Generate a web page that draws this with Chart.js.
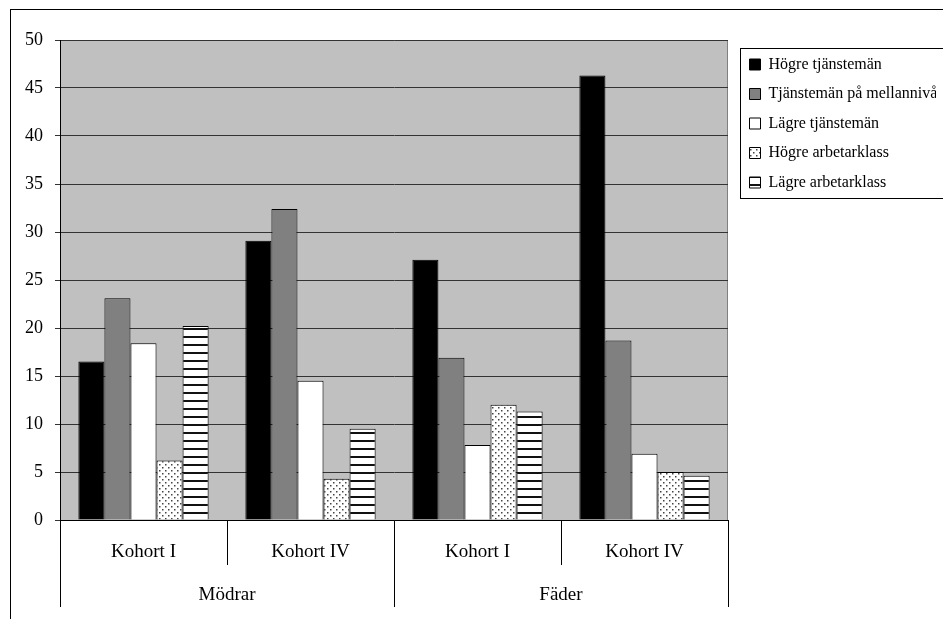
<!DOCTYPE html>
<html lang="sv">
<head>
  <meta charset="UTF-8" />
  <title>Mödrar och fäder - klasstillhörighet per kohort</title>
  <script src="https://cdn.jsdelivr.net/npm/chart.js"></script>
  <style>
    html, body {
      margin: 0;
      padding: 0;
      background: #ffffff;
      overflow: hidden;
    }
    #frame {
      position: absolute;
      left: 10px;
      top: 9px;
      width: 1000px;
      height: 700px;
      border: 1px solid #000000;
    }
    #chartContainer {
      position: absolute;
      left: 0;
      top: 0;
      width: 932px;
      height: 609px;
    }
  </style>
</head>
<body>

  <div id="frame">
    <div id="chartContainer">
      <canvas id="classChart"></canvas>
    </div>
  </div>

  <script>
    // data
    const cohorts = ['Kohort I', 'Kohort IV', 'Kohort I', 'Kohort IV'];
    const groups = ['Mödrar', 'Fäder'];
    const seriesNames = ['Högre tjänstemän', 'Tjänstemän på mellannivå', 'Lägre tjänstemän', 'Högre arbetarklass', 'Lägre arbetarklass'];
    const hogreTjm = [16.5, 29.1, 27.1, 46.3];
    const mellanTjm = [23.1, 32.4, 16.9, 18.7];
    const lagreTjm = [18.4, 14.5, 7.8, 6.9];
    const hogreArb = [6.2, 4.3, 12.0, 5.0];
    const lagreArb = [20.2, 9.5, 11.3, 4.6];
    const yMin = 0;
    const yMax = 50;
    const yStep = 5;

    const serif = "'Liberation Serif', 'Times New Roman', serif";

    // fill patterns
    function dotPattern() {
      const c = document.createElement('canvas');
      c.width = 6; c.height = 6;
      const g = c.getContext('2d');
      g.fillStyle = '#ffffff';
      g.fillRect(0, 0, 6, 6);
      g.fillStyle = '#444444';
      g.fillRect(1, 1, 1.5, 1.5);
      g.fillRect(4, 4, 1.5, 1.5);
      return g.createPattern(c, 'repeat');
    }
    function stripePattern() {
      const c = document.createElement('canvas');
      c.width = 8; c.height = 8;
      const g = c.getContext('2d');
      g.fillStyle = '#ffffff';
      g.fillRect(0, 0, 8, 8);
      g.fillStyle = '#111111';
      g.fillRect(0, 6, 8, 2);
      return g.createPattern(c, 'repeat');
    }

    const seriesValues = [hogreTjm, mellanTjm, lagreTjm, hogreArb, lagreArb];
    const seriesFills = ['#000000', '#808080', '#ffffff', dotPattern(), stripePattern()];

    // gray plot background + legend frame + a little nudge for the legend
    const chartDecor = {
      id: 'chartDecor',
      beforeDraw(chart) {
        const a = chart.chartArea;
        const c = chart.ctx;
        c.save();
        c.fillStyle = '#c0c0c0';
        c.fillRect(a.left, a.top, a.right - a.left, a.bottom - a.top);
        c.strokeStyle = '#808080';
        c.lineWidth = 1;
        c.strokeRect(a.left + 0.5, a.top + 0.5, a.right - a.left - 1, a.bottom - a.top);
        c.restore();
      },
      afterLayout(chart) {
        const lg = chart.legend;
        lg.left += 8; lg.right += 8;
        lg.top += 3; lg.bottom += 3;
      },
      afterDraw(chart) {
        const lg = chart.legend;
        const hb = lg.legendHitBoxes;
        if (!hb || !hb.length) return;
        const c = chart.ctx;
        const x = Math.round(hb[0].left) - 9.5;
        const y = Math.round(hb[0].top) - 8.5;
        const b = Math.round(hb[hb.length - 1].top + hb[hb.length - 1].height) + 7.5;
        c.save();
        c.strokeStyle = '#000000';
        c.lineWidth = 1;
        c.strokeRect(x, y, chart.width + 20 - x, b - y);
        c.restore();
      }
    };

    const ctx = document.getElementById('classChart').getContext('2d');
    const classChart = new Chart(ctx, {
      type: 'bar',
      data: {
        labels: cohorts,
        datasets: seriesNames.map((name, i) => ({
          label: name,
          data: seriesValues[i],
          backgroundColor: seriesFills[i],
          borderColor: '#000000',
          borderWidth: 1,
          categoryPercentage: 0.78,
          barPercentage: 1.0,
          xAxisID: 'x'
        }))
      },
      options: {
        responsive: true,
        maintainAspectRatio: false,
        animation: false,
        layout: {
          padding: { left: 0, top: 30, right: 15, bottom: 12 }
        },
        plugins: {
          tooltip: { enabled: false },
          legend: {
            position: 'right',
            align: 'start',
            maxWidth: 200,
            labels: {
              font: { family: serif, size: 16 },
              color: '#000000',
              boxWidth: 11,
              boxHeight: 11,
              padding: 13.5
            }
          }
        },
        scales: {
          x: {
            type: 'category',
            position: 'bottom',
            offset: true,
            grid: {
              offset: true,
              drawOnChartArea: false,
              tickLength: 45,
              color: '#000000'
            },
            border: { color: '#000000' },
            ticks: {
              font: { family: serif, size: 19 },
              color: '#000000',
              padding: -24,
              maxRotation: 0,
              autoSkip: false
            },
            afterFit(scale) { scale.height = 45; }
          },
          x2: {
            type: 'category',
            position: 'bottom',
            labels: groups,
            offset: true,
            grid: {
              offset: true,
              drawOnChartArea: false,
              tickLength: 42,
              color: '#000000'
            },
            border: { display: false },
            ticks: {
              font: { family: serif, size: 19 },
              color: '#000000',
              padding: -23,
              maxRotation: 0,
              autoSkip: false
            },
            afterFit(scale) { scale.height = 42; }
          },
          y: {
            min: yMin,
            max: yMax,
            ticks: {
              stepSize: yStep,
              font: { family: serif, size: 18 },
              color: '#000000',
              padding: 12
            },
            grid: {
              color: '#333333',
              tickLength: 5
            },
            border: { color: '#000000' },
            afterFit(scale) { scale.width = 49; }
          }
        }
      },
      plugins: [chartDecor]
    });
  </script>
</body>
</html>
